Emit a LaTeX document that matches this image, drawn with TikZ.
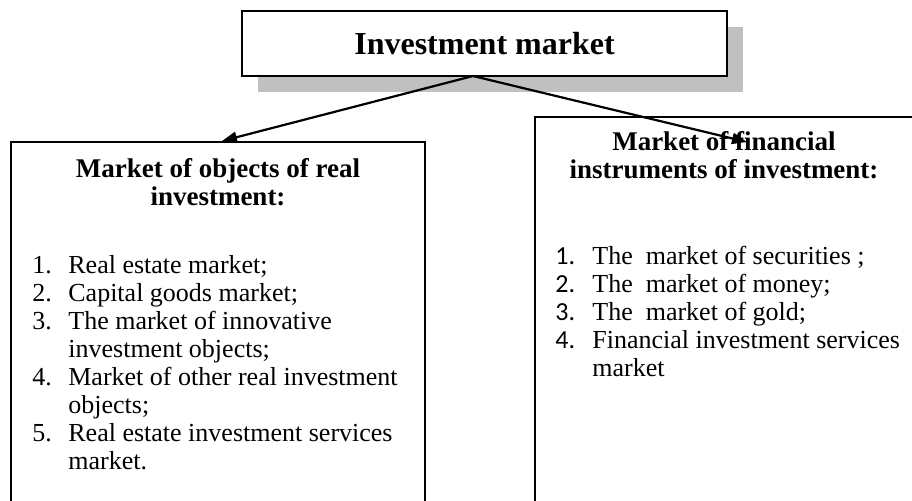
\documentclass[tikz,border=0pt]{standalone}
\usepackage{fontspec}
\setmainfont{Liberation Serif}
\newfontfamily\calibri{Carlito}
\usetikzlibrary{arrows.meta,shadows}
\definecolor{shadowgray}{RGB}{192,192,192}

\begin{document}
\begin{tikzpicture}[x=0.5pt,y=-0.5pt,
  box/.style={draw=black,line width=0.9pt,fill=white,rectangle,inner sep=0pt},
  heading/.style={font=\fontsize{13.5}{14}\selectfont\bfseries,anchor=base,inner sep=0pt},
  items/.style={font=\fontsize{13}{14}\selectfont,anchor=base west,inner sep=0pt},
  link/.style={line width=1.1pt,-{Triangle[length=7.5pt,width=5.5pt]}}]
\useasboundingbox (0,0) rectangle (912,500);
\node [box,minimum width=242.5pt,minimum height=32.5pt,
  font=\fontsize{16}{19}\selectfont\bfseries,
  drop shadow={shadow xshift=8pt,shadow yshift=-8pt,fill=shadowgray,opacity=1}]
  (inv) at (484.5,43.5) {Investment market};
\node [box,minimum width=207pt,minimum height=194pt] (real) at (218,336) {};
\node [box,minimum width=190pt,minimum height=206.5pt] (fin) at (725,323.5) {};
% left column
\node [heading] (realhead) at (218,177) {\begin{tabular}[t]{@{}c@{}}
  Market of objects of real\\ investment:\end{tabular}};
\node [items] (reallist) at (32,273) {\begin{tabular}[t]{@{}p{18pt}@{}l@{}}
  1. & Real estate market;\\
  2. & Capital goods market;\\
  3. & The market of innovative\\
     & investment objects;\\
  4. & Market of other real investment\\
     & objects;\\
  5. & Real estate investment services\\
     & market.
  \end{tabular}};
% right column
\node [heading] (finhead) at (724,150) {\begin{tabular}[t]{@{}c@{}}
  Market of financial\\ instruments of investment:\end{tabular}};
\node [items] (finlist) at (555,264) {\begin{tabular}[t]{@{}p{18.5pt}@{}l@{}}
  {\calibri 1.} & The\ \ market of securities ;\\
  {\calibri 2.} & The\ \ market of money;\\
  {\calibri 3.} & The\ \ market of gold;\\
  {\calibri 4.} & Financial investment services\\
     & market
  \end{tabular}};
% arrows
\coordinate (apex) at (473,76);
\coordinate (realtip) at (222,141);
\coordinate (fintip) at (747,142);
\draw [link] (apex) -- (realtip);
\draw [link] (apex) -- (fintip);
\end{tikzpicture}
\end{document}
